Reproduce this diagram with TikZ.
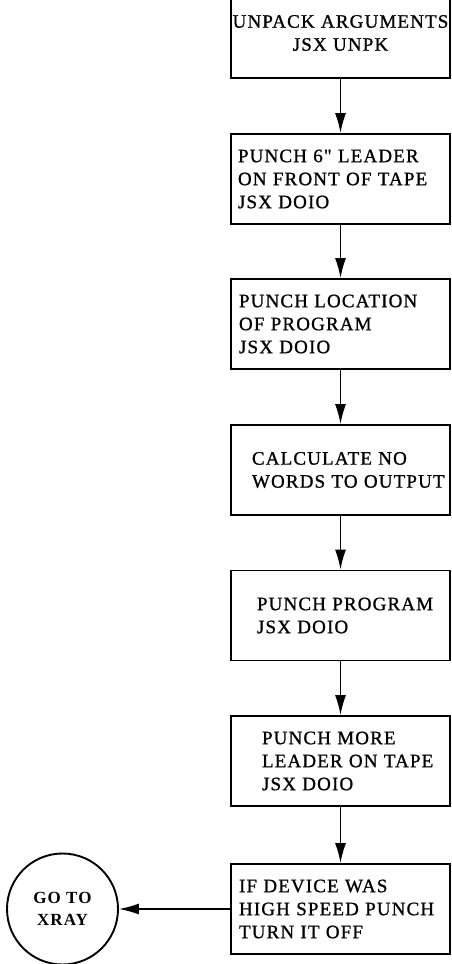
\documentclass[tikz,border=0pt]{standalone}
\usepackage{fontspec}
\setmainfont{Liberation Serif}
\newfontfamily\flowfont[LetterSpace=6, FakeBold=1]{Liberation Serif}
\newfontfamily\exitfont[LetterSpace=6]{Liberation Serif}
\usetikzlibrary{arrows.meta}

\begin{document}
\begin{tikzpicture}[x=1pt, y=-1pt,
    tbox/.style={draw, line width=1.9pt, minimum height=90pt, text width=219, inner xsep=0pt, font=\flowfont\fontsize{19}{23}\selectfont},
    stepbox/.style={tbox, align=left, execute at begin node={\leftskip=#1pt}},
    stepbox/.default=8,
    exitnode/.style={circle, draw, line width=1.9pt, minimum size=111pt, inner sep=0pt, align=center, font=\exitfont\bfseries\fontsize{17}{22}\selectfont},
    flow/.style={draw, line width=1.5pt, -{Latex[length=20pt, width=11pt]}}
]
    \useasboundingbox (0,0) rectangle (452,964);

    \node[tbox, align=center] (unpack) at (340.5,33) {UNPACK ARGUMENTS\\JSX UNPK};
    \node[stepbox=7] (leader) at (340.5,179) {PUNCH 6" LEADER\\ON FRONT OF TAPE\\JSX DOIO};
    \node[stepbox=8] (loc) at (340.5,324) {PUNCH LOCATION\\OF PROGRAM\\JSX DOIO};
    \node[stepbox=21] (calc) at (340.5,470) {CALCULATE NO\\WORDS TO OUTPUT};
    \node[stepbox=26] (prog) at (340.5,615.5) {PUNCH PROGRAM\\JSX DOIO};
    \node[stepbox=31] (more) at (340.5,761) {PUNCH MORE\\LEADER ON TAPE\\JSX DOIO};
    \node[stepbox=8] (off) at (340.5,909) {IF DEVICE WAS\\HIGH SPEED PUNCH\\TURN IT OFF};

    \node[exitnode] (xray) at (62.5,909) {GO TO\\XRAY};

    \draw[flow] (unpack) -- (leader);
    \draw[flow] (leader) -- (loc);
    \draw[flow] (loc) -- (calc);
    \draw[flow] (calc) -- (prog);
    \draw[flow] (prog) -- (more);
    \draw[flow] (more) -- (off);
    \draw[flow] (off) -- (xray);
\end{tikzpicture}
\end{document}
